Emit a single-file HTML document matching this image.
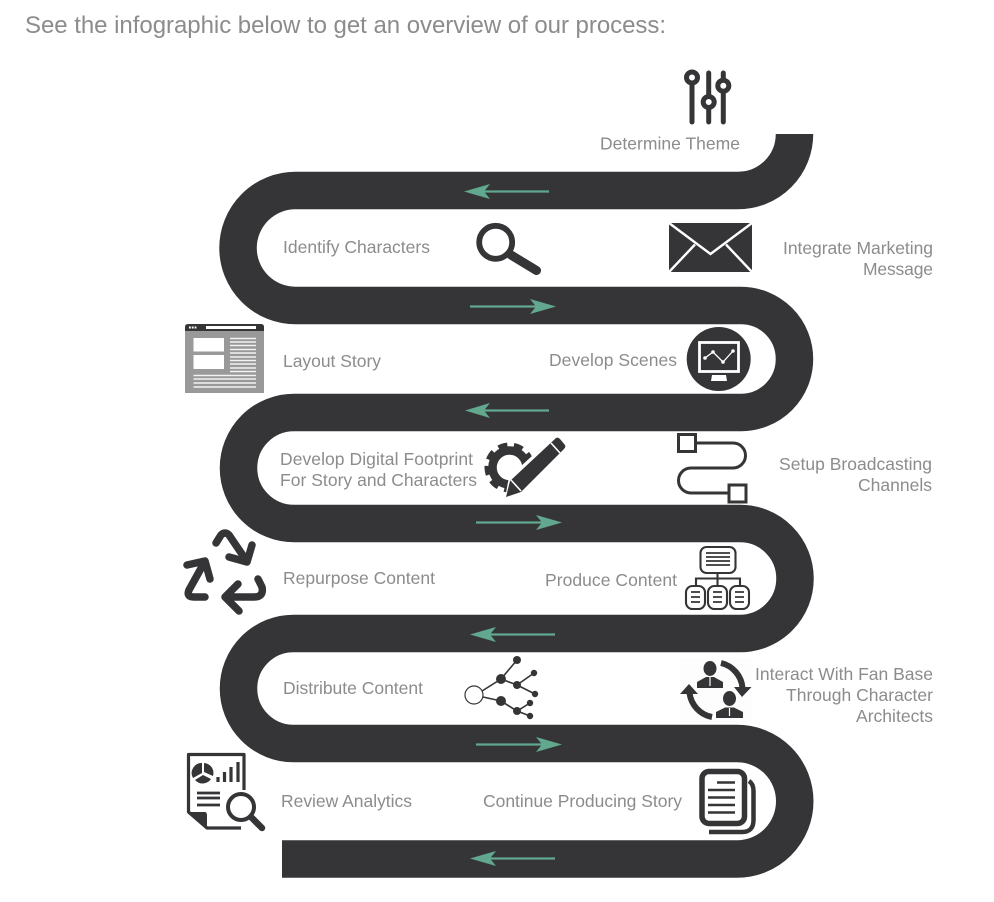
<!DOCTYPE html>
<html lang="en">
<head>
<meta charset="utf-8">
<title>Process infographic</title>
<style>
html,body{margin:0;padding:0;background:#fff;width:994px;height:902px;overflow:hidden}
svg{display:block}
text{font-family:"Liberation Sans",sans-serif;fill:#8c8c8c;font-size:17.5px}
.a{fill:#62a88f;stroke:none}
.l{stroke:#62a88f;stroke-width:2.2;fill:none}
.d{fill:#353537}
.s{stroke:#353537;fill:none}
</style>
</head>
<body>
<svg width="994" height="902" viewBox="0 0 994 902" xmlns="http://www.w3.org/2000/svg">
<rect width="994" height="902" fill="#fff"/>
<text x="25" y="33" style="font-size:24px" textLength="641" lengthAdjust="spacing">See the infographic below to get an overview of our process:</text>

<!-- road -->
<path d="M794.500 134 A56.500 56.500 0 0 1 738 190.500 H295.500 A57.500 57.500 0 0 0 295.500 305.500 H741 A53.500 53.500 0 0 1 741 412.500 H294 A55.500 55.500 0 0 0 294 523.500 H740 A55 55 0 0 1 740 633.500 H293.500 A55 55 0 0 0 293.500 743.500 H737 A57.700 57.700 0 0 1 737 859 H282" fill="none" stroke="#353537" stroke-width="37.500"/>

<!-- arrows -->
<g>
<path class="l" d="M549 191.500 H480"/><path class="a" d="M464 191.500 L490 184 L484 191.500 L490 199Z"/>
<path class="l" d="M470 306.500 H540"/><path class="a" d="M556 306.500 L530 299 L536 306.500 L530 314Z"/>
<path class="l" d="M549 410.500 H480"/><path class="a" d="M465 410.500 L490 403 L484 410.500 L490 418Z"/>
<path class="l" d="M476 522.500 H546"/><path class="a" d="M562 522.500 L536 515 L542 522.500 L536 530Z"/>
<path class="l" d="M555 634.500 H486"/><path class="a" d="M470 634.500 L496 627 L490 634.500 L496 642Z"/>
<path class="l" d="M476 744.500 H546"/><path class="a" d="M562 744.500 L536 737 L542 744.500 L536 752Z"/>
<path class="l" d="M555 858.500 H486"/><path class="a" d="M470 858.500 L496 851 L490 858.500 L496 866Z"/>
</g>

<!-- labels -->
<g>
<text x="600" y="149.500" textLength="140" lengthAdjust="spacing">Determine Theme</text>
<text x="283" y="253" textLength="147" lengthAdjust="spacing">Identify Characters</text>
<text x="783" y="254" textLength="150" lengthAdjust="spacing">Integrate Marketing</text>
<text x="863" y="275" textLength="70" lengthAdjust="spacing">Message</text>
<text x="283" y="367" textLength="98" lengthAdjust="spacing">Layout Story</text>
<text x="549" y="366" textLength="128" lengthAdjust="spacing">Develop Scenes</text>
<text x="280" y="465" textLength="193" lengthAdjust="spacing">Develop Digital Footprint</text>
<text x="280" y="486" textLength="197" lengthAdjust="spacing">For Story and Characters</text>
<text x="779" y="470" textLength="153" lengthAdjust="spacing">Setup Broadcasting</text>
<text x="858" y="491" textLength="74" lengthAdjust="spacing">Channels</text>
<text x="283" y="584" textLength="152" lengthAdjust="spacing">Repurpose Content</text>
<text x="545" y="586" textLength="132" lengthAdjust="spacing">Produce Content</text>
<text x="283" y="694" textLength="140" lengthAdjust="spacing">Distribute Content</text>
<text x="755" y="680" textLength="178" lengthAdjust="spacing">Interact With Fan Base</text>
<text x="786" y="701" textLength="147" lengthAdjust="spacing">Through Character</text>
<text x="856" y="722" textLength="77" lengthAdjust="spacing">Architects</text>
<text x="281" y="807" textLength="131" lengthAdjust="spacing">Review Analytics</text>
<text x="483" y="807" textLength="199" lengthAdjust="spacing">Continue Producing Story</text>
</g>

<!-- sliders -->
<g class="s" stroke-width="5" stroke-linecap="round">
<path d="M692 84 V122"/><path d="M708.700 73 V95 M708.700 109 V122"/><path d="M723.300 73 V79 M723.300 92 V122"/>
<circle cx="692" cy="77.500" r="5.500"/><circle cx="708.700" cy="102" r="5.500"/><circle cx="723.300" cy="85.700" r="5.500"/>
</g>

<!-- envelope -->
<rect class="d" x="669" y="223" width="83" height="49"/>
<path d="M669 223 L710.500 254 L752 223 M695 244.500 L669 272 M726 244.500 L752 272" fill="none" stroke="#fff" stroke-width="2.400"/>

<!-- search -->
<circle class="s" cx="495.700" cy="242.300" r="16.500" stroke-width="5.800"/>
<path class="s" d="M511 255 L536.500 270.500" stroke-width="9" stroke-linecap="round"/>

<!-- layout -->
<rect x="185" y="326" width="79" height="67" fill="#999"/>
<path class="d" d="M185 331 V327 Q185 324 188 324 H261 Q264 324 264 327 V331Z"/>
<rect x="206" y="326" width="50" height="3" fill="#fff"/>
<path d="M189 327.500 h1.800 m1 0 h1.800 m1 0 h1.800" stroke="#fff" stroke-width="2"/>
<rect x="193.500" y="338" width="30.500" height="13.500" fill="#fff"/>
<rect x="193.500" y="355" width="30.500" height="14" fill="#fff"/>
<path d="M230 338.500 H256 M230 342 H256 M230 345.500 H256 M230 349.500 H256 M230 353 H256 M230 357 H256 M230 360.500 H256 M230 364 H256 M230 368 H256 M230 371.500 H256 M193.500 375.500 H256 M193.500 379 H256 M193.500 383 H256 M193.500 387 H256" stroke="#f2f2f2" stroke-width="1.500"/>

<!-- monitor -->
<circle class="d" cx="718.700" cy="359" r="32"/>
<rect x="699.500" y="342.500" width="39" height="29" fill="none" stroke="#fff" stroke-width="2.800"/>
<path d="M712 375 H726 L727 381 H711Z" fill="#fff"/>
<path d="M705 358 L713 352 L723 362 L733 351" fill="none" stroke="#fff" stroke-width="1.300"/>
<g fill="#fff"><circle cx="705" cy="358" r="1.800"/><circle cx="713" cy="352" r="1.800"/><circle cx="723" cy="362" r="1.800"/><circle cx="733" cy="351" r="1.800"/></g>

<!-- gear and pencil -->
<circle class="s" cx="509.500" cy="467.500" r="17" stroke-width="8.500"/>
<circle class="s" cx="509.500" cy="467.500" r="22" stroke-width="6" stroke-dasharray="9 6.400"/>
<path d="M505 498 L509 477 L555 435 L569 449 L525 494 Z" fill="#fff"/>
<path class="d" d="M506 497 L510 481 L556 438 Q558 437 560 439 L565 445 Q566 447 564 449 L521 492 Z"/>
<path d="M511 480 L521 491 M551 443 L560 453" stroke="#fff" stroke-width="1.600" fill="none"/>

<!-- connector -->
<g class="s" stroke-width="3">
<rect x="678.500" y="434.500" width="17" height="17"/>
<rect x="729" y="485" width="17" height="17"/>
<path d="M696 443 H733 A12.500 12.500 0 0 1 733 468 H691 A12.500 12.500 0 0 0 691 493 H729"/>
</g>

<!-- org chart -->
<g class="s" stroke-width="2.100">
<rect x="700.500" y="547" width="35" height="26" rx="6"/>
<rect x="686" y="586" width="19" height="23" rx="6.500"/>
<rect x="708" y="586" width="19" height="23" rx="6.500"/>
<rect x="730" y="586" width="19" height="23" rx="6.500"/>
<path d="M717.500 573 V586 M696 586 V578.500 H740 V586"/>
<path d="M706 553 H730 M706 557 H730 M706 561 H730 M706 565 H730" stroke-width="1.800"/>
<path d="M691 592 H700 M691 597 H700 M691 602 H700 M713 592 H722 M713 597 H722 M713 602 H722 M735 592 H744 M735 597 H744 M735 602 H744" stroke-width="1.800"/>
</g>

<!-- fans -->
<rect x="680" y="658" width="72" height="65" fill="#fdfdfd"/>
<g class="d">
<ellipse cx="710" cy="668.500" rx="6.500" ry="7.500"/>
<path d="M697 688 V682 L706 677 H714 L723 682 V688Z"/>
<ellipse cx="729.500" cy="698.500" rx="6.500" ry="7.500"/>
<path d="M716 718 V712 L725 707.500 H734 L743 712 V718Z"/>
<path d="M742 697 L734 687 L751.500 687Z"/>
<path d="M689 684 L680 694 L698 694Z"/>
</g>
<path d="M710 677 V686 M729.500 708 V716" stroke="#fdfdfd" stroke-width="1.200"/>
<path class="s" d="M721 663 A28 28 0 0 1 742.500 688" stroke-width="6"/>
<path class="s" d="M712 717 A28 28 0 0 1 689.500 693" stroke-width="6"/>

<!-- recycle -->
<g class="s" stroke-width="7.500" stroke-linecap="round" stroke-linejoin="round">
<path d="M216 543 L221 535 Q225 531 229 535 L246 560"/>
<path d="M229 557 L247 562 L252 545"/>
<path d="M205 597 H194 Q186 597 189 590 L204 563"/>
<path d="M187 565 L205 561 L210 579"/>
<path d="M258 579 L262 587 Q264 597 254 597 H226"/>
<path d="M238 584 L225 597 L239 611"/>
</g>

<!-- network -->
<g stroke="#353537" stroke-width="1.600" fill="none">
<path d="M482 691 L501 679 L517 660 M501 679 L517 685 L534 673 M517 685 L535 694 M483 697 L501 701 L517 711 L530 703 M517 711 L530 716"/>
</g>
<circle cx="474" cy="695" r="9" fill="#fff" stroke="#353537" stroke-width="1.200"/>
<g class="d">
<circle cx="501" cy="679" r="5"/><circle cx="517" cy="660" r="4"/><circle cx="517" cy="685" r="4"/><circle cx="534" cy="673" r="3.200"/><circle cx="535" cy="694" r="3.200"/><circle cx="501" cy="701" r="5"/><circle cx="517" cy="711" r="4"/><circle cx="530" cy="703" r="3.200"/><circle cx="530" cy="716" r="3.200"/>
</g>

<!-- analytics -->
<path class="s" d="M244 790 V754.500 H188.500 V812 L207 828 H241" stroke-width="3.200" stroke-linejoin="round"/>
<path class="d" d="M188.500 812 H205 Q207 812 207 816 V828Z"/>
<path class="d" d="M202 773 V763 A10 10 0 0 0 193 778Z M204 763 A10 10 0 0 1 213 776 L204 772Z M195 780 A10 10 0 0 0 211 779 L203 775Z"/>
<path class="s" d="M218 782 V777 M224.500 782 V772 M231 782 V767 M238 782 V762" stroke-width="3.200"/>
<path class="s" d="M197 793 H220 M197 798 H220 M197 805 H220" stroke-width="2.800"/>
<circle cx="241" cy="807" r="13" fill="#fff" stroke="#353537" stroke-width="4"/>
<path class="s" d="M251 817 L262 828" stroke-width="6.500" stroke-linecap="round"/>

<!-- documents -->
<path class="s" d="M749 781 Q753.500 784 753.500 791 V820 Q753.500 832 742 832 H709" stroke-width="4.500"/>
<rect class="s" x="702" y="771.500" width="42.500" height="52" rx="7" stroke-width="5.500"/>
<path class="s" d="M717 782.500 H735 M708 790 H735 M708 797.500 H735 M708 805 H735 M708 812.500 H735" stroke-width="2.600"/>
</svg>
</body>
</html>
